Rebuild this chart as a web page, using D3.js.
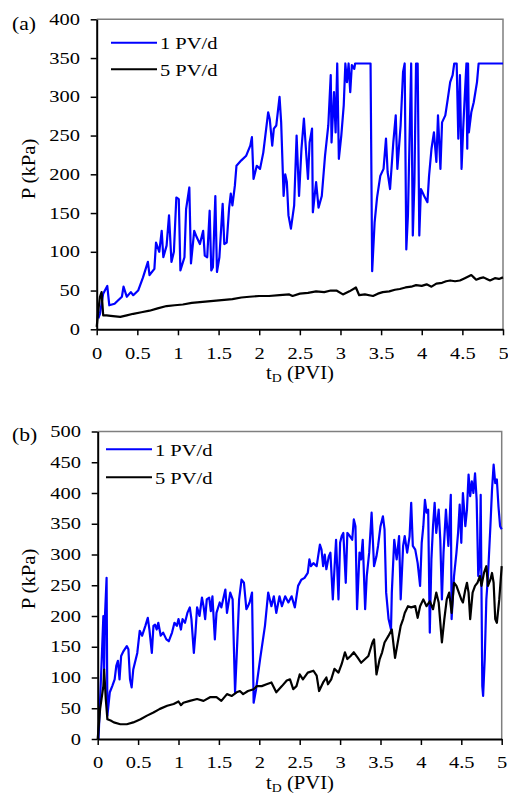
<!DOCTYPE html>
<html>
<head>
<meta charset="utf-8">
<script src="https://cdn.jsdelivr.net/npm/d3@7"></script>
<style>
  body { margin: 0; background: #fff; }
  svg { display: block; }
  text { font-family: "Liberation Serif", "Times New Roman", serif; fill: #000; }
</style>
</head>
<body>
<svg id="chart" width="508" height="796"></svg>
<script>
// ---- data, panel (a) ----
const aT1 = [0.02,0.04,0.08,0.13,0.155,0.22,0.31,0.33,0.37,0.42,0.45,0.51,0.57,0.63,0.65,0.71,0.73,0.77,0.80,0.82,0.86,0.89,0.92,0.95,0.98,1.01,1.03,1.08,1.10,1.14,1.16,1.20,1.23,1.27,1.31,1.33,1.36,1.39,1.41,1.43,1.46,1.48,1.51,1.55,1.57,1.60,1.63,1.65,1.67,1.70,1.72,1.78,1.84,1.89,1.91,1.93,1.97,2.01,2.05,2.11,2.13,2.16,2.18,2.21,2.25,2.27,2.30,2.32,2.34,2.36,2.39,2.43,2.46,2.49,2.52,2.55,2.58,2.60,2.62,2.65,2.66,2.70,2.73,2.77,2.81,2.85,2.88,2.89,2.92,2.94,2.96,2.98,3.01,3.04,3.06,3.08,3.10,3.12,3.14,3.17,3.18,3.37,3.39,3.42,3.45,3.49,3.53,3.56,3.58,3.61,3.65,3.68,3.70,3.74,3.77,3.79,3.81,3.83,3.87,3.89,3.91,3.93,3.95,3.97,3.99,4.03,4.07,4.09,4.12,4.15,4.18,4.20,4.23,4.25,4.29,4.32,4.35,4.38,4.40,4.43,4.45,4.47,4.49,4.51,4.53,4.55,4.56,4.57,4.58,4.61,4.64,4.68,4.70,5.0];
const aP1 = [14,20,46,56,31,33,42,55,42,48,44,50,67,87,70,78,112,100,127,93,108,147,87,100,170,168,76,93,155,183,85,127,119,110,127,95,93,153,76,80,172,74,93,162,110,112,157,175,160,185,211,218,224,237,248,194,211,207,228,280,271,237,259,263,300,267,172,200,190,147,130,160,250,172,233,272,224,194,241,259,151,190,157,172,224,263,328,241,306,254,343,220,250,289,343,319,343,306,341,336,343,343,75,138,170,198,207,246,203,181,241,276,207,263,332,343,103,147,343,121,190,343,343,121,181,172,164,198,233,254,216,276,207,267,276,297,319,328,343,343,246,328,207,259,302,343,233,343,254,280,293,319,343,343];

const aT5 = [0,0.02,0.04,0.06,0.08,0.12,0.20,0.29,0.37,0.45,0.55,0.65,0.75,0.86,0.96,1.06,1.17,1.27,1.37,1.47,1.57,1.67,1.78,1.88,2.0,2.12,2.25,2.37,2.41,2.50,2.60,2.70,2.80,2.88,2.95,3.03,3.11,3.19,3.23,3.30,3.40,3.46,3.52,3.60,3.67,3.73,3.80,3.87,3.93,4.0,4.06,4.12,4.18,4.25,4.30,4.35,4.41,4.47,4.53,4.61,4.64,4.67,4.72,4.76,4.80,4.84,4.90,4.95,5.0];
const aP5 = [3,24,42,48,18,18,17,16,18,20,22,24,27,30,31,32,34,35,36,37,38,39,41,42,43,43,44,45,43,46,47,49,48,50,50,45,49,54,44,45,43,46,48,49,51,52,54,55,57,56,58,55,59,60,62,63,62,63,66,70,67,64,66,67,65,63,66,65,67];

// ---- data, panel (b) ----
const bT1 = [0.01,0.05,0.07,0.08,0.09,0.11,0.12,0.15,0.18,0.21,0.23,0.25,0.27,0.29,0.32,0.36,0.38,0.40,0.42,0.44,0.49,0.52,0.55,0.59,0.62,0.64,0.67,0.69,0.71,0.73,0.75,0.78,0.81,0.85,0.88,0.92,0.95,0.98,1.00,1.03,1.05,1.08,1.11,1.14,1.16,1.19,1.21,1.23,1.26,1.29,1.31,1.33,1.35,1.38,1.40,1.42,1.45,1.47,1.51,1.53,1.58,1.60,1.64,1.67,1.70,1.72,1.75,1.78,1.81,1.84,1.86,1.88,1.91,1.93,1.96,2.01,2.07,2.11,2.15,2.18,2.21,2.25,2.28,2.32,2.36,2.40,2.44,2.48,2.52,2.56,2.60,2.62,2.64,2.67,2.71,2.75,2.77,2.79,2.81,2.83,2.86,2.88,2.91,2.93,2.95,2.98,3.00,3.02,3.04,3.07,3.09,3.12,3.15,3.17,3.19,3.21,3.24,3.26,3.28,3.31,3.33,3.36,3.39,3.42,3.45,3.47,3.50,3.53,3.55,3.57,3.60,3.63,3.64,3.67,3.70,3.73,3.75,3.78,3.80,3.83,3.86,3.88,3.90,3.93,3.96,3.99,4.01,4.03,4.05,4.07,4.09,4.11,4.13,4.15,4.17,4.19,4.22,4.24,4.26,4.28,4.31,4.34,4.37,4.38,4.41,4.44,4.46,4.48,4.50,4.52,4.55,4.57,4.59,4.61,4.63,4.65,4.67,4.69,4.71,4.73,4.74,4.76,4.77,4.79,4.81,4.83,4.86,4.88,4.90,4.92,4.94,4.96,4.98,5.00];
const bP1 = [0,130,200,113,200,262,38,76,86,97,119,127,97,135,143,151,146,97,84,113,140,176,168,184,197,178,140,184,186,178,189,168,173,162,159,173,189,184,195,178,195,189,205,214,195,140,173,214,200,230,216,195,227,230,208,232,162,205,222,214,243,205,238,227,76,135,227,259,254,211,216,222,238,59,81,130,184,238,216,232,205,232,216,232,222,232,214,249,259,262,270,292,281,286,281,316,308,281,300,276,297,303,227,276,324,227,319,330,335,254,335,330,324,357,346,211,303,292,324,211,265,303,368,281,297,314,346,362,341,238,195,178,238,324,292,330,227,314,330,303,330,384,314,308,286,249,319,346,389,368,373,173,292,346,384,335,373,324,227,303,373,314,397,195,265,303,335,381,319,400,346,373,430,395,419,400,432,389,265,292,397,86,70,130,227,265,346,405,446,416,422,378,346,341];

const bT5 = [0,0.03,0.07,0.08,0.10,0.12,0.16,0.20,0.28,0.36,0.44,0.53,0.61,0.69,0.77,0.86,0.94,1.00,1.03,1.06,1.14,1.23,1.31,1.39,1.47,1.53,1.60,1.66,1.72,1.76,1.80,1.86,1.93,1.97,2.03,2.09,2.15,2.21,2.28,2.34,2.38,2.42,2.46,2.50,2.54,2.60,2.67,2.71,2.74,2.79,2.83,2.85,2.89,2.93,2.98,3.02,3.06,3.09,3.13,3.17,3.22,3.26,3.31,3.35,3.40,3.42,3.45,3.49,3.52,3.55,3.60,3.64,3.68,3.72,3.75,3.78,3.80,3.84,3.88,3.93,3.96,3.99,4.03,4.07,4.11,4.15,4.19,4.22,4.26,4.29,4.32,4.35,4.38,4.41,4.44,4.47,4.50,4.52,4.55,4.57,4.59,4.61,4.64,4.67,4.70,4.73,4.75,4.78,4.81,4.83,4.86,4.88,4.90,4.92,4.94,4.97,5.0];
const bP5 = [0,49,86,113,65,32,30,27,24,24,27,32,38,43,49,54,57,61,55,59,62,65,62,68,68,62,73,70,76,78,73,78,81,86,86,89,92,76,86,95,97,81,86,105,97,108,111,103,78,92,100,89,97,114,108,122,141,130,135,141,132,124,130,135,157,162,105,130,141,157,168,178,132,162,184,195,205,216,214,216,197,216,227,216,224,211,238,222,157,195,227,238,205,254,249,238,227,222,243,254,238,195,238,249,254,265,249,270,281,249,259,270,254,195,189,227,281];

// ---- ticks and labels ----
const xTicks = [0,0.5,1,1.5,2,2.5,3,3.5,4,4.5,5];
const yTicksA = [0,50,100,150,200,250,300,350,400];
const yTicksB = [0,50,100,150,200,250,300,350,400,450,500];
const seriesNames = ['1 PV/d', '5 PV/d'];
const seriesColors = ['#0000ff', '#000000'];

const svg = d3.select('#chart');
const STRETCH = 1.28; // the source fonts are wide

// Dibuja un panel completo
function drawPanel(cfg) {
    const x = d3.scaleLinear().domain([0, 5]).range([cfg.left, cfg.right]);
    const y = d3.scaleLinear().domain([0, cfg.yMax]).range([cfg.bottom, cfg.top]);
    const g = svg.append('g');

    // marco gris arriba y a la derecha
    g.append('path')
        .attr('d', `M${x(0)},${y(cfg.yMax)}H${x(5)}V${y(0)}`)
        .attr('fill', 'none')
        .attr('stroke', '#7f7f7f')
        .attr('stroke-width', 1.5);

    const line = d3.line().x(d => x(d[0])).y(d => y(d[1]));

    g.append('path')
        .datum(d3.zip(cfg.t1, cfg.p1))
        .attr('fill', 'none')
        .attr('stroke', seriesColors[0])
        .attr('stroke-width', 2.2)
        .attr('stroke-linejoin', 'round')
        .attr('d', line);

    g.append('path')
        .datum(d3.zip(cfg.t5, cfg.p5))
        .attr('fill', 'none')
        .attr('stroke', seriesColors[1])
        .attr('stroke-width', 2.2)
        .attr('stroke-linejoin', 'round')
        .attr('d', line);

    // ejes
    const xAxis = g.append('g')
        .attr('transform', `translate(0,${y(0)})`)
        .call(d3.axisBottom(x).tickValues(xTicks).tickFormat(d => String(d))
            .tickSize(6).tickSizeOuter(0).tickPadding(12));
    const yAxis = g.append('g')
        .attr('transform', `translate(${x(0)},0)`)
        .call(d3.axisLeft(y).tickValues(cfg.yTicks).tickFormat(d => String(d))
            .tickSize(6).tickSizeOuter(0).tickPadding(7));

    [xAxis, yAxis].forEach(a => {
        a.select('.domain').attr('stroke', '#000').attr('stroke-width', 2);
        a.selectAll('.tick line').attr('stroke', '#000').attr('stroke-width', 1.5);
        a.selectAll('.tick text')
            .attr('fill', '#000')
            .style('font-size', '16px')
            .attr('transform', `scale(${STRETCH},1)`);
    });

    // titulo eje x
    const xt = g.append('text')
        .attr('transform', `translate(300,${y(0) + 50}) scale(1.15,1)`)
        .attr('text-anchor', 'middle')
        .style('font-size', '18px');
    xt.append('tspan').text('t');
    xt.append('tspan').attr('dy', 3).style('font-size', '12px').text('D');
    xt.append('tspan').attr('dy', -3).text(' (PVI)');

    // titulo eje y
    g.append('text')
        .attr('transform', `translate(35,${cfg.yTitle}) rotate(-90) scale(1.15,1)`)
        .attr('text-anchor', 'middle')
        .style('font-size', '18px')
        .text('P (kPa)');

    // etiqueta del panel
    g.append('text')
        .attr('transform', `translate(12,${cfg.tagY}) scale(1.2,1)`)
        .style('font-size', '18px')
        .text(cfg.tag);

    // leyenda
    seriesNames.forEach((name, i) => {
        const ly = cfg.legY[i];
        g.append('line')
            .attr('x1', cfg.legX).attr('x2', cfg.legX + 46)
            .attr('y1', ly).attr('y2', ly)
            .attr('stroke', seriesColors[i])
            .attr('stroke-width', 2);
        g.append('text')
            .attr('transform', `translate(${cfg.legX + 49},${ly + 6.5}) scale(${STRETCH},1)`)
            .style('font-size', '16px')
            .text(name);
    });
}

drawPanel({
    left: 96.7, right: 503, top: 19.3, bottom: 329.3, yMax: 400, yTicks: yTicksA,
    t1: aT1, p1: aP1, t5: aT5, p5: aP5,
    yTitle: 169, tag: '(a)', tagY: 30, legX: 111, legY: [42.7, 69.3]
});

drawPanel({
    left: 97.7, right: 501.7, top: 431.5, bottom: 739, yMax: 500, yTicks: yTicksB,
    t1: bT1, p1: bP1, t5: bT5, p5: bP5,
    yTitle: 579, tag: '(b)', tagY: 441, legX: 106, legY: [449.3, 477.3]
});
</script>
</body>
</html>
